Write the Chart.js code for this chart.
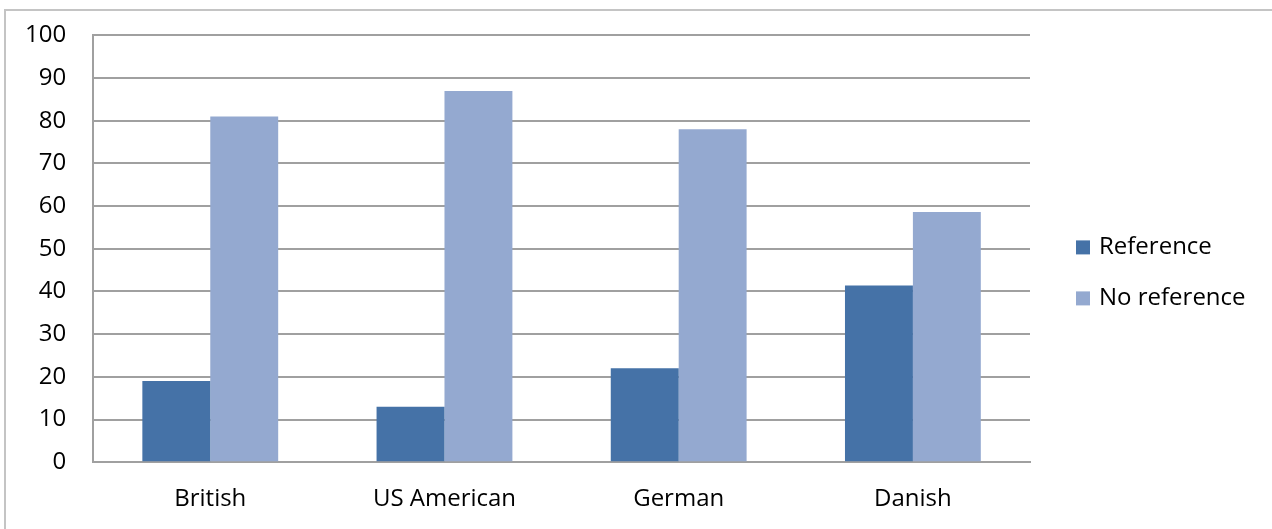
<!DOCTYPE html>
<html>
<head>
<meta charset="utf-8">
<script src="https://cdn.jsdelivr.net/npm/chart.js@4/dist/chart.umd.min.js"></script>
<style>
    html,body{margin:0;padding:0;background:#fff;overflow:hidden;}
    #frame{
        position:absolute;
        left:4px;
        top:9px;
        width:1268px;
        height:520px;
        overflow:hidden;
        border-left:2px solid #c4c4c4;
        border-top:2px solid #c4c4c4;
    }
    #chart-wrap{position:absolute;left:0;top:-17px;right:0;bottom:-6px;}
</style>
</head>
<body>
<div id="frame"><div id="chart-wrap"><canvas id="bar-chart"></canvas></div></div>
<script>
// groups along the x axis
const groups = ['British','US American','German','Danish']

// percentages per group
const withRef = [19,13,22,41.4]
const withoutRef = [81,87,78,58.6]

const series_names = ['Reference','No reference']
const series_colors = ['#4572a7','#94a9d0']

const y_min = 0
const y_max = 100
const y_step = 10

const font_family = '"Open Sans", sans-serif'
const font_size = 24

window.onload=()=>{
    draw_bar_chart()
}

// legend drawn beside the plot, one row per dataset
const side_legend = {
    id:'side_legend',
    afterDraw(chart){
        const c = chart.ctx
        const area = chart.chartArea
        const box = 14
        c.save()
        c.font = font_size+'px '+font_family
        c.textBaseline = 'middle'
        c.textAlign = 'left'
        chart.data.datasets.forEach((ds,i)=>{
            const x = area.right + 46
            const y = area.top + 212 + i*51
            c.fillStyle = ds.backgroundColor
            c.fillRect(x, y-box/2, box, box)
            c.fillStyle = '#000'
            c.fillText(ds.label, x+box+9, y)
        })
        c.restore()
    }
}

function draw_bar_chart(){
    const grid_color = '#a0a0a0'

    const data = {
        labels:groups,
        datasets:[
            {
                label:series_names[0],
                data:withRef,
                backgroundColor:series_colors[0],
                categoryPercentage:0.58,
                barPercentage:1.0
            },
            {
                label:series_names[1],
                data:withoutRef,
                backgroundColor:series_colors[1],
                categoryPercentage:0.58,
                barPercentage:1.0
            }
        ]
    };

    const config = {
        type:'bar',
        data:data,
        plugins:[side_legend],
        options:{
            responsive:true,
            maintainAspectRatio:false,
            animation:false,
            layout:{
                padding:{left:-8,right:244,top:0,bottom:0}
            },
            plugins:{
                legend:{display:false},
                tooltip:{enabled:false}
            },
            scales:{
                x:{
                    grid:{display:false,drawTicks:false},
                    border:{display:true,color:grid_color,width:2},
                    ticks:{
                        color:'#000',
                        padding:23,
                        font:{family:font_family,size:font_size}
                    }
                },
                y:{
                    min:y_min,
                    max:y_max,
                    grid:{color:grid_color,lineWidth:2,drawTicks:false},
                    border:{display:true,color:grid_color,width:2},
                    ticks:{
                        stepSize:y_step,
                        color:'#000',
                        padding:27,
                        font:{family:font_family,size:font_size}
                    }
                }
            }
        }
    }

    const barChart = new Chart(
        document.getElementById('bar-chart'),
        config
    )
}
</script>
</body>
</html>
